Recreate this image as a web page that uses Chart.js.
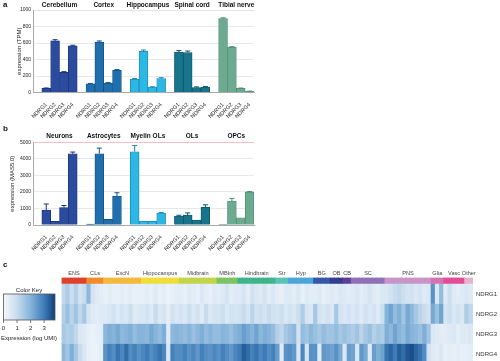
<!DOCTYPE html>
<html><head><meta charset="utf-8">
<script src="https://cdn.jsdelivr.net/npm/chart.js@4/dist/chart.umd.min.js"></script>
<style>
html,body{margin:0;padding:0;width:500px;height:361px;overflow:hidden;background:#fff;}
canvas{position:absolute;}
.lbl{position:absolute;font:bold 8px "Liberation Sans",Arial,sans-serif;color:#111;}
</style></head><body>
<canvas id="ca" width="262" height="120" style="left:0;top:0"></canvas>
<canvas id="cb" width="262" height="140" style="left:0;top:120px"></canvas>
<canvas id="cc" width="500" height="110" style="left:0;top:255px"></canvas>
<div class="lbl" style="left:3px;top:0px">a</div>
<div class="lbl" style="left:3px;top:124px">b</div>
<div class="lbl" style="left:3px;top:260px">c</div>
<script>
// ---------- data ----------
const genes = ['NDRG1','NDRG2','NDRG3','NDRG4'];

// panel a: GTEx tissues (TPM)
const tissues = ['Cerebellum','Cortex','Hippocampus','Spinal cord','Tibial nerve'];
const tpmCerebellum  = [50, 625, 245, 565];
const tpmCortex      = [105, 610, 115, 270];
const tpmHippocampus = [160, 500, 65, 170];
const tpmSpinalCord  = [490, 485, 60, 65];
const tpmTibialNerve = [895, 550, 50, 15];
const errCerebellum  = [5, 15, 8, 8];
const errCortex      = [5, 15, 5, 8];
const errHippocampus = [10, 15, 5, 10];
const errSpinalCord  = [18, 18, 8, 8];
const errTibialNerve = [10, 6, 4, 2];

// panel b: cell types (MAS5.0)
const cellTypes = ['Neurons','Astrocytes','Myelin OLs','OLs','OPCs'];
const masNeurons    = [900, 220, 1050, 4310];
const masAstrocytes = [50, 4310, 340, 1750];
const masMyelinOLs  = [4430, 220, 220, 720];
const masOLs        = [540, 600, 300, 1070];
const masOPCs       = [40, 1450, 440, 2000];
const errNeurons    = [370, 0, 130, 100];
const errAstrocytes = [0, 340, 0, 200];
const errMyelinOLs  = [370, 0, 0, 40];
const errOLs        = [50, 130, 0, 150];
const errOPCs       = [0, 160, 0, 20];

// panel c: heatmap (log UMI)
const regions = ['ENS','CLs','ExcN','Hippocampus','Midbrain','MBInh','Hindbrain','Str','Hyp','BG','OB','CB','SC','PNS','Glia','Vasc','Other'];
const regionColumns = [6,4,9,9,9,5,9,3,6,4,3,2,8,11,3,5,2];
const keyTicks = [0,1,2,3];
const ndrg1Expr = [
 1.1,1.4,0.9,1.3,0.8,1.0,  1.9,0.7,0.5,0.4,
 0.3,0.4,0.3,0.3,0.4,0.3,0.4,0.3,0.3,  0.3,0.4,0.3,0.5,0.3,0.4,0.2,0.3,0.4,
 0.4,0.3,0.5,0.4,0.3,0.6,0.4,0.3,0.5,  0.4,0.5,0.7,0.4,0.5,
 0.5,0.7,0.4,0.8,0.6,0.5,0.7,0.4,0.6,  0.4,0.3,0.5,  0.5,0.4,0.6,0.3,0.5,0.4,
 0.4,0.5,0.3,0.4,  0.5,0.4,0.6,  0.5,0.4,  0.5,0.6,0.4,0.5,0.7,0.5,0.4,0.6,
 0.6,0.8,1.0,1.1,0.9,0.7,0.8,0.6,0.7,0.5,0.6,  2.6,0.6,1.8,  0.5,0.9,0.5,0.4,0.5,  0.6,0.5];
const ndrg2Expr = [
 1.3,1.7,1.2,1.6,1.1,1.5,  0.7,0.5,0.4,0.5,
 0.5,0.6,0.8,0.5,0.7,0.6,0.9,0.5,0.6,  0.6,0.7,0.5,1.0,0.6,0.7,0.4,0.8,0.6,
 0.7,0.6,0.9,0.6,0.8,0.5,1.0,0.6,0.7,  0.7,0.9,0.6,0.8,0.7,
 0.8,1.0,0.7,1.2,0.8,0.9,0.7,1.0,0.8,  0.7,0.9,0.6,  0.8,0.6,0.9,1.4,0.7,0.6,
 1.5,0.7,0.6,0.8,  0.6,1.5,0.7,  0.6,0.7,  0.6,0.7,0.5,0.8,0.6,0.7,0.5,0.9,
 2.0,2.3,1.8,2.1,1.6,2.2,1.9,1.5,1.2,1.0,0.8,  2.2,1.7,2.3,  0.7,0.9,0.6,0.8,0.6,  1.4,1.1];
const ndrg3Expr = [
 1.5,1.3,1.4,1.1,0.6,0.5,  0.3,0.2,0.3,0.4,
 1.9,2.1,2.0,2.2,1.9,2.0,2.1,1.8,2.0,  2.0,1.9,2.2,2.0,1.8,2.1,0.5,1.9,2.0,
 1.9,1.8,2.0,1.7,1.9,2.1,1.8,2.0,1.8,  1.8,2.0,1.9,1.7,2.0,
 2.1,2.4,2.2,2.0,2.3,1.9,2.1,2.0,1.8,  1.3,1.1,1.5,  1.7,1.9,0.8,1.8,1.6,1.9,
 1.7,1.5,1.8,1.6,  1.6,1.8,1.5,  1.7,1.5,  1.4,1.6,1.2,1.5,1.7,1.3,1.5,1.4,
 2.1,1.9,2.3,2.0,1.8,2.2,2.0,1.9,1.7,2.1,1.6,  0.6,0.5,0.4,  0.4,0.5,0.6,0.4,0.5,  0.5,0.6];
const ndrg4Expr = [
 1.9,1.6,2.1,1.5,1.0,0.6,  0.3,0.2,0.2,0.3,
 2.6,2.9,2.7,3.1,2.8,3.2,2.7,2.9,2.6,  2.8,3.0,2.7,2.9,3.1,2.8,0.6,2.9,2.7,
 2.7,2.9,2.6,2.8,2.5,2.9,2.7,2.6,2.8,  2.6,2.9,2.7,2.5,2.8,
 3.0,3.4,3.2,2.9,3.1,2.8,3.0,2.7,2.9,  2.4,0.5,2.6,  2.7,2.5,0.6,2.8,0.7,2.6,
 2.6,0.5,2.5,2.4,  2.3,2.6,2.2,  0.6,2.4,  2.3,0.6,2.5,2.2,0.5,2.4,2.1,2.3,
 3.1,3.3,3.0,3.4,3.2,3.5,3.6,3.3,3.1,2.7,0.8,  0.5,0.4,0.6,  0.3,0.4,0.3,0.4,0.3,  0.3,0.4];

// ---------- styles ----------
const FONT = '"Liberation Sans", Arial, sans-serif';
Chart.defaults.font.family = FONT;
const barFill = ['#2b4b9e','#1f6fae','#2cb7e4','#18748c','#6caa92'];
const barEdge = ['#1b3377','#14517f','#1a88b2','#0e5364','#4c8a72'];
const regionColors = ['#e0412c','#f08c2c','#f4b83c','#efdd3a','#c4d34c','#7cc462','#3fb38a','#5cc2b2','#4aa6da','#3656a8','#333c8e','#5e3f98','#9070b6','#c895c8','#d672b2','#e24c98','#eab0d0'];
const keyStops = [[0,[244,248,252]],[1,[200,220,238]],[2,[134,180,218]],[3,[61,124,184]],[3.8,[16,63,120]]];
function expColor(v){
  v = Math.max(0, Math.min(3.8, v));
  for (let i=0;i<keyStops.length-1;i++){
    const [a,ca]=keyStops[i],[b,cb]=keyStops[i+1];
    if (v<=b){ const t=(v-a)/(b-a); const c=ca.map((x,k)=>Math.round(x+(cb[k]-x)*t)); return `rgb(${c[0]},${c[1]},${c[2]})`; }
  }
  return 'rgb(16,63,120)';
}

// ---------- plugins ----------
const errorBars = {
  id:'errorBars',
  afterDatasetsDraw(chart){
    const ds = chart.data.datasets[0], meta = chart.getDatasetMeta(0), y = chart.scales.y, ctx = chart.ctx;
    ctx.save(); ctx.lineWidth = 1;
    meta.data.forEach((bar,i)=>{
      const e = ds.errors[i], v = ds.data[i];
      if (v==null || !e) return;
      const yt = y.getPixelForValue(v+e);
      ctx.strokeStyle = ds.borderColor[i];
      ctx.beginPath(); ctx.moveTo(bar.x, bar.y); ctx.lineTo(bar.x, yt);
      ctx.moveTo(bar.x-2.5, yt); ctx.lineTo(bar.x+2.5, yt); ctx.stroke();
    });
    ctx.restore();
  }
};
const groupTitles = {
  id:'groupTitles',
  afterDraw(chart, args, opts){
    const meta = chart.getDatasetMeta(0), ctx = chart.ctx;
    ctx.save(); ctx.font = 'bold 6.5px '+FONT; ctx.fillStyle = '#111';
    ctx.textAlign = 'center'; ctx.textBaseline = 'middle';
    opts.names.forEach((n,g)=>{
      const x = (meta.data[5*g+1].x + meta.data[5*g+4].x)/2;
      ctx.fillText(n, x, opts.y);
    });
    ctx.restore();
  }
};

function buildBars(id, names, values, errs, yMax, yStep, yTitle, topGrid, padTop, xAxisH, titleY, yTitlePad){
  const labels=[], data=[], errors=[], bg=[], bd=[];
  names.forEach((g,gi)=>{
    labels.push(''); data.push(null); errors.push(0); bg.push('#fff'); bd.push('#fff');
    genes.forEach((gene,j)=>{ labels.push(gene); data.push(values[gi][j]); errors.push(errs[gi][j]); bg.push(barFill[gi]); bd.push(barEdge[gi]); });
  });
  return new Chart(document.getElementById(id), {
    type:'bar',
    data:{labels, datasets:[{data, errors, backgroundColor:bg, borderColor:bd, borderWidth:0.8, categoryPercentage:1, barPercentage:1}]},
    options:{
      responsive:false, animation:false,
      layout:{padding:{top:padTop, right:8, left:0, bottom:0}},
      plugins:{legend:{display:false}, tooltip:{enabled:false}, groupTitles:{names, y:titleY}},
      scales:{
        x:{grid:{display:false}, border:{color:'#aaaaaa'},
           ticks:{autoSkip:false, maxRotation:45, minRotation:45, font:{size:5.5}, color:'#222', padding:1},
           afterFit(s){ s.height = xAxisH; }},
        y:{min:0, max:yMax,
           ticks:{stepSize:yStep, font:{size:5}, color:'#222', padding:2, callback:(v)=>String(v)},
           grid:{color:(c)=> (c.tick && c.tick.value===yMax) ? topGrid : '#e2e2e2', drawTicks:false, lineWidth:0.8},
           border:{color:'#aaaaaa'},
           title:{display:true, text:yTitle, font:{size:6}, color:'#222', padding:{top:yTitlePad, bottom:0}},
           afterFit(s){ s.width = 33; }}
      }
    },
    plugins:[errorBars, groupTitles]
  });
}

buildBars('ca', tissues,
  [tpmCerebellum,tpmCortex,tpmHippocampus,tpmSpinalCord,tpmTibialNerve],
  [errCerebellum,errCortex,errHippocampus,errSpinalCord,errTibialNerve],
  1000, 100, 'expression (TPM)', '#dcdcdc', 10, 27.5, 5, 16);

buildBars('cb', cellTypes,
  [masNeurons,masAstrocytes,masMyelinOLs,masOLs,masOPCs],
  [errNeurons,errAstrocytes,errMyelinOLs,errOLs,errOPCs],
  5000, 500, 'expression (MAS5.0)', '#f2b0b0', 22.3, 35, 16, 9);

// ---------- heatmap ----------
const colLabels=[], colRegion=[];
regions.forEach((r,ri)=>{ for(let k=0;k<regionColumns[ri];k++){ colLabels.push(r+' '+(k+1)); colRegion.push(ri); } });
const exprRows = [ndrg1Expr, ndrg2Expr, ndrg3Expr, ndrg4Expr];
const cellOpts = {barPercentage:1, categoryPercentage:1, borderWidth:0, stack:'s'};

const heatDecor = {
  id:'heatDecor',
  afterDraw(chart){
    const ctx = chart.ctx, meta = chart.getDatasetMeta(0), y = chart.scales.y;
    const w = meta.data[0].width;
    ctx.save();
    // region labels
    ctx.font = '5.6px '+FONT; ctx.fillStyle = '#444'; ctx.textAlign='center'; ctx.textBaseline='middle';
    let idx=0;
    regions.forEach((r,ri)=>{
      const x0 = meta.data[idx].x - w/2, x1 = meta.data[idx+regionColumns[ri]-1].x + w/2;
      ctx.fillText(r, (x0+x1)/2, chart.chartArea.top-4);
      idx += regionColumns[ri];
    });
    // row labels
    ctx.font = '6px '+FONT; ctx.fillStyle = '#333'; ctx.textAlign='left';
    genes.forEach((g,i)=>{
      const yc = y.getPixelForValue(0.3 + i + 0.5);
      ctx.fillText(g, chart.chartArea.right+3, yc+1);
    });
    // color key
    const kx0 = 3.5, kx1 = 55, ky0 = 39, ky1 = 65, kmax = 3.8;
    const grad = ctx.createLinearGradient(kx0,0,kx1,0);
    keyStops.forEach(([v])=> grad.addColorStop(v/kmax, expColor(v)));
    ctx.fillStyle = grad; ctx.fillRect(kx0, ky0, kx1-kx0, ky1-ky0);
    ctx.strokeStyle = '#555'; ctx.lineWidth = 0.8; ctx.strokeRect(kx0, ky0, kx1-kx0, ky1-ky0);
    ctx.fillStyle = '#222'; ctx.textAlign='center';
    ctx.font = '6px '+FONT;
    ctx.fillText('Color Key', 29, 35);
    keyTicks.forEach(t=>{
      const x = kx0 + (kx1-kx0)*t/kmax;
      ctx.beginPath(); ctx.moveTo(x, ky1); ctx.lineTo(x, ky1+3); ctx.stroke();
      ctx.fillText(String(t), x, ky1+8);
    });
    ctx.fillText('Expression (log UMI)', 29, 83);
    ctx.restore();
  }
};

new Chart(document.getElementById('cc'), {
  type:'bar',
  data:{labels:colLabels, datasets:[
    Object.assign({label:'region', data:colLabels.map(()=>0.3), backgroundColor:colRegion.map(i=>regionColors[i])}, cellOpts),
    ...exprRows.map((row,i)=>Object.assign({label:genes[i], data:row.map(()=>1), backgroundColor:row.map(expColor)}, cellOpts))
  ]},
  options:{
    responsive:false, animation:false,
    layout:{padding:{left:61.5, right:27, top:22.5, bottom:1.5}},
    plugins:{legend:{display:false}, tooltip:{enabled:false}},
    scales:{
      x:{display:false, stacked:true},
      y:{display:false, stacked:true, min:0, max:4.3, reverse:true}
    }
  },
  plugins:[heatDecor]
});
</script>
</body></html>
